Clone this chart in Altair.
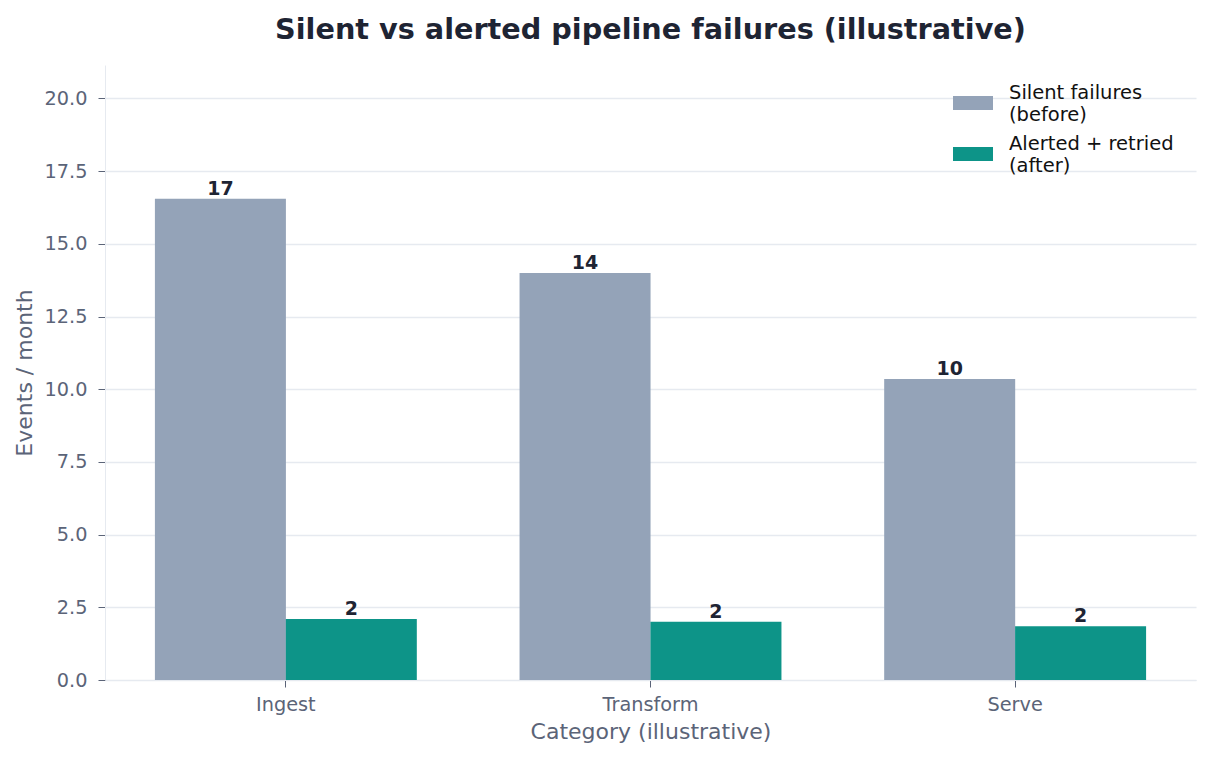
import altair as alt
import pandas as pd

# Monthly failure events per pipeline stage
categories = ["Ingest", "Transform", "Serve"]
series = ["Silent failures\n(before)", "Alerted + retried\n(after)"]
silent_before = [16.55, 14.0, 10.35]
alerted_after = [2.1, 2.0, 1.85]

colors = ["#94a3b8", "#0d9488"]

rows = []
for cat, s, a in zip(categories, silent_before, alerted_after):
    rows.append({"category": cat, "series": series[0], "value": s})
    rows.append({"category": cat, "series": series[1], "value": a})
df = pd.DataFrame(rows)

FONT = "DejaVu Sans"
TEXT_DARK = "#1e2433"
TEXT_MUTED = "#5b6478"
GRID = "#e6eaf0"

x_enc = alt.X(
    "category:N",
    sort=categories,
    scale=alt.Scale(paddingInner=0.282, paddingOuter=0.137),
    axis=alt.Axis(
        title="Category (illustrative)",
        labelAngle=0,
        labelFontSize=19.3,
        labelColor=TEXT_MUTED,
        labelPadding=8,
        titleFontSize=22,
        titleFontWeight="normal",
        titleColor=TEXT_MUTED,
        titlePadding=7,
        tickSize=7,
        tickColor=TEXT_MUTED,
        domainColor=GRID,
        grid=False,
    ),
)
xoff_enc = alt.XOffset("series:N", sort=series, scale=alt.Scale(paddingInner=0, paddingOuter=0))
y_enc = alt.Y(
    "value:Q",
    scale=alt.Scale(domain=[0, 21.15], nice=False),
    axis=alt.Axis(
        title="Events / month",
        values=[0, 2.5, 5, 7.5, 10, 12.5, 15, 17.5, 20],
        format=".1f",
        labelFontSize=19.3,
        labelColor=TEXT_MUTED,
        labelPadding=11,
        titleFontSize=22,
        titleFontWeight="normal",
        titleColor=TEXT_MUTED,
        titlePadding=8,
        tickSize=7,
        tickColor=TEXT_MUTED,
        domainColor=GRID,
        gridColor=GRID,
        gridWidth=1.3,
    ),
)

bars = alt.Chart(df).mark_bar(size=131).encode(
    x=x_enc,
    xOffset=xoff_enc,
    y=y_enc,
    color=alt.Color(
        "series:N",
        sort=series,
        scale=alt.Scale(domain=series, range=colors),
        legend=alt.Legend(
            title=None,
            orient="none",
            legendX=848,
            legendY=18,
            symbolType="M-1,-0.35L1,-0.35L1,0.35L-1,0.35Z",
            symbolSize=1600,
            symbolStrokeWidth=0,
            labelExpr="split(datum.label, '\\n')",
            labelFontSize=19.5,
            labelColor="#111111",
            labelFont=FONT,
            labelBaseline="bottom",
            labelLimit=400,
            labelOffset=16,
            rowPadding=10,
        ),
    ),
)

labels = alt.Chart(df).mark_text(
    baseline="bottom", dy=0, fontSize=19, fontWeight="bold", color=TEXT_DARK, font=FONT
).encode(
    x=alt.X("category:N", sort=categories),
    xOffset=alt.XOffset("series:N", sort=series),
    y="value:Q",
    text=alt.Text("value:Q", format=".0f"),
)

chart = (
    alt.layer(bars, labels)
    .properties(
        width=1091,
        height=615,
        autosize=alt.AutoSizeParams(type="none"),
        padding={"left": 105, "top": 65, "right": 16, "bottom": 80},
        title=alt.Title(
            "Silent vs alerted pipeline failures (illustrative)",
            fontSize=28.7,
            fontWeight="bold",
            color=TEXT_DARK,
            font=FONT,
            anchor="middle",
            offset=20,
        ),
    )
    .configure(font=FONT)
    .configure_view(stroke=None)
)

chart.save("out.html", embed_options={"renderer": "svg", "actions": False})
